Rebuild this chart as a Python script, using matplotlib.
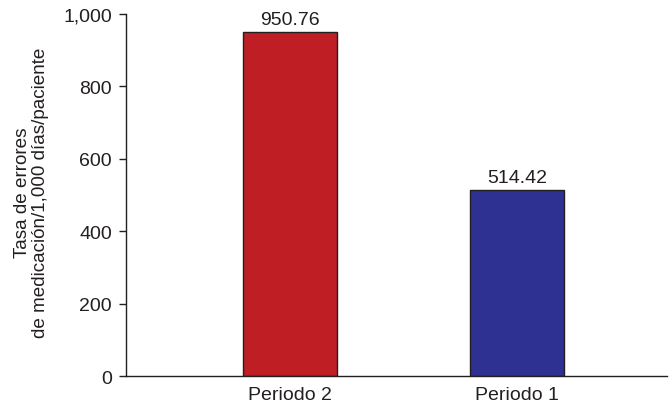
import matplotlib.pyplot as plt
from matplotlib.ticker import FuncFormatter

periods = ['Periodo 2', 'Periodo 1']
rates = [950.76, 514.42]
bar_colors = ['#be1e24', '#2e3192']

plt.rcParams['font.family'] = ['Liberation Sans', 'DejaVu Sans']

fig = plt.figure(figsize=(6.7, 4.06), dpi=100)
ax = fig.add_axes([0.188, 0.0714, 0.8075, 0.8916])

x = range(len(periods))
bars = ax.bar(x, rates, width=0.414, color=bar_colors,
              edgecolor='#231f20', linewidth=1.0)

for b, v in zip(bars, rates):
    ax.text(b.get_x() + b.get_width() / 2, v + 10, f'{v:.2f}',
            ha='center', va='bottom', fontsize=14, color='#231f20')

ax.set_xlim(-0.722, 1.661)
ax.set_ylim(0, 1000)
ax.set_xticks(list(x))
ax.set_xticklabels(periods, fontsize=14, color='#231f20')
ax.tick_params(axis='x', length=0, pad=7)
ax.set_yticks(range(0, 1001, 200))
ax.yaxis.set_major_formatter(FuncFormatter(lambda v, p: f'{int(v):,}'))
ax.tick_params(axis='y', labelsize=14, length=5, width=1.0,
               colors='#231f20', pad=5)

for s in ['top', 'right']:
    ax.spines[s].set_visible(False)
for s in ['left', 'bottom']:
    ax.spines[s].set_color('#231f20')
    ax.spines[s].set_linewidth(1.0)

ax.set_ylabel('Tasa de errores\nde medicación/1,000 días/paciente',
              fontsize=13.6, color='#231f20', labelpad=10, linespacing=1.1)
ax.yaxis.set_label_coords(-0.142, 0.51)

fig.savefig('out.png', dpi=100)
